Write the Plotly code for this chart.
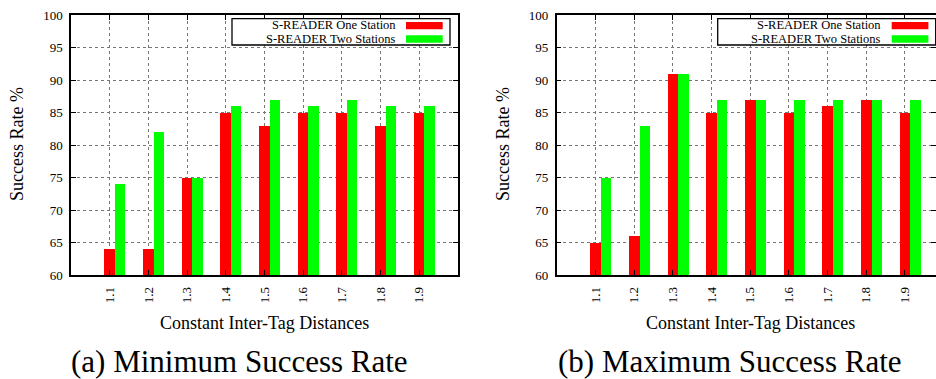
import plotly.graph_objects as go

# ---- data ----
categories = ["1.1", "1.2", "1.3", "1.4", "1.5", "1.6", "1.7", "1.8", "1.9"]
min_one_station = [64, 64, 75, 85, 83, 85, 85, 83, 85]
min_two_stations = [74, 82, 75, 86, 87, 86, 87, 86, 86]
max_one_station = [65, 66, 91, 85, 87, 85, 86, 87, 85]
max_two_stations = [75, 83, 91, 87, 87, 87, 87, 87, 87]
series_names = ["S-READER One Station", "S-READER Two Stations"]
series_colors = ["#ff0000", "#00ff00"]
y_ticks = [60, 65, 70, 75, 80, 85, 90, 95, 100]
captions = ["(a) Minimum Success Rate", "(b) Maximum Success Rate"]
x_title = "Constant Inter-Tag Distances"
y_title = "Success Rate %"

W, H = 936, 379
FONT = "Liberation Serif, Times New Roman, Times, serif"


def px(x):
    return x / W


def py(y):
    return 1 - y / H


idx = list(range(len(categories)))
bw = 0.27
unit = 38.67  # pixels per category

panels = [
    dict(left=71.0, right=458.0, one=min_one_station, two=min_two_stations,
         xa="x", ya="y", xaxis="xaxis", yaxis="yaxis", shift=0.0),
    dict(left=556.7, right=936.0, one=max_one_station, two=max_two_stations,
         xa="x2", ya="y2", xaxis="xaxis2", yaxis="yaxis2", shift=485.7),
]
top, bottom = 15.0, 275.0

fig = go.Figure()
annotations = []
shapes = []


def ann(x, y, text, size, **kw):
    d = dict(x=px(x), y=py(y), xref="paper", yref="paper", text=text, showarrow=False,
             xanchor="center", yanchor="middle",
             font=dict(family=FONT, size=size, color="black"))
    d.update(kw)
    return d


for p_i, p in enumerate(panels):
    for s_i, (vals, off) in enumerate([(p["one"], 0.0), (p["two"], bw)]):
        fig.add_trace(go.Bar(
            x=idx, y=vals, width=bw, offset=off - bw / 2,
            marker=dict(color=series_colors[s_i], line=dict(width=0)),
            name=series_names[s_i], showlegend=False,
            xaxis=p["xa"], yaxis=p["ya"],
        ))
    xr_end = -1 + (p["right"] - p["left"]) / unit
    axcommon = dict(showline=True, linecolor="black", linewidth=1.5, mirror="ticks",
                    ticks="inside", ticklen=5, tickcolor="black", automargin=False,
                    showgrid=True, gridcolor="#777777", griddash="dot", gridwidth=1,
                    zeroline=False, tickfont=dict(family=FONT, size=13, color="black"))
    fig.layout[p["xaxis"]] = dict(
        domain=[px(p["left"]), px(p["right"])], range=[-1, xr_end],
        tickvals=idx, ticktext=categories, tickangle=-90,
        anchor=p["ya"], ticklabelstandoff=5, **axcommon)
    fig.layout[p["yaxis"]] = dict(
        domain=[py(bottom), py(top)], range=[60, 100], tickvals=y_ticks,
        anchor=p["xa"], ticklabelstandoff=4, **axcommon)

    sh = p["shift"]
    # axis titles
    annotations.append(ann(17 + 486 * p_i, 144, y_title, 18, textangle=-90))
    annotations.append(ann(264.5 + sh, 323, x_title, 18))
    annotations.append(ann(240 + 490 * p_i, 361, captions[p_i], 31))

    # legend box
    shapes.append(dict(type="rect", xref="paper", yref="paper",
                       x0=px(232 + sh), x1=px(450 + sh), y0=py(45), y1=py(18.7),
                       line=dict(color="black", width=1.3), fillcolor="white", layer="above"))
    for s_i, (ty, y0, y1) in enumerate([(25.2, 22, 29.3), (39.0, 35.3, 42.7)]):
        annotations.append(ann(397.7 + sh, ty, series_names[s_i], 12.5, xanchor="right"))
        shapes.append(dict(type="rect", xref="paper", yref="paper",
                           x0=px(406 + sh), x1=px(442.7 + sh), y0=py(y1), y1=py(y0),
                           line=dict(width=0), fillcolor=series_colors[s_i], layer="above"))

fig.update_layout(
    template="none",
    width=W, height=H, margin=dict(l=0, r=0, t=0, b=0, pad=0),
    paper_bgcolor="white", plot_bgcolor="white",
    font=dict(family=FONT, color="black"),
    barmode="overlay", bargap=0,
    annotations=annotations, shapes=shapes, showlegend=False,
)

fig.write_html("out.html")
